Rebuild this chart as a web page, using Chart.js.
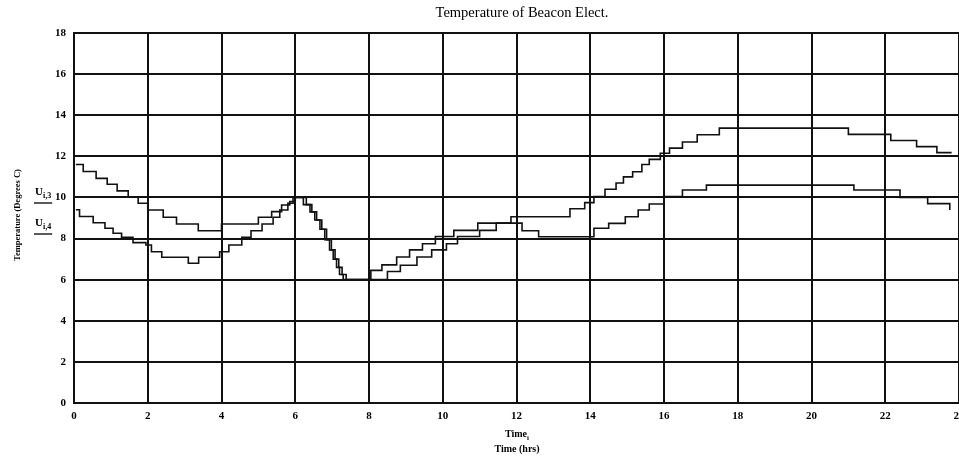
<!DOCTYPE html>
<html>
<head>
  <title>Temperature of Beacon Elect.</title>
  <style>
    body {
      margin: 0;
      padding: 0;
      background: #fff;
      overflow: hidden;
    }

    #wrap {
      width: 959px;
      height: 456px;
    }
  </style>
</head>
<body>
  <div id="wrap">
    <canvas id="grafikSuhu" width="959" height="456"></canvas>
  </div>

  <script src="https://cdn.jsdelivr.net/npm/chart.js@4.4.0/dist/chart.umd.min.js"></script>

  <script>
    // upper curve U(i,3): time where the step happens, new value
    const hours3 = [0.05, 0.25, 0.6, 0.9, 1.17, 1.47, 1.74, 2.0, 2.42, 2.78, 3.37, 4.0, 5.0, 5.36, 5.63, 5.85, 6.0,
      6.3, 6.45, 6.58, 6.72, 6.85, 6.98, 7.08, 7.18, 7.27, 7.38, 8.05, 8.35, 8.75, 9.1, 9.45, 9.8, 10.3, 10.95, 11.85,
      13.45, 13.85, 14.1, 14.4, 14.7, 14.9, 15.15, 15.4, 15.6, 15.9, 16.15, 16.5, 16.9, 17.5, 21.0, 22.15, 22.85, 23.4, 23.8];
    const temp3 = [11.6, 11.26, 10.93, 10.64, 10.32, 10.01, 9.72, 9.39, 9.04, 8.71, 8.38, 8.71, 9.04, 9.31, 9.63, 9.8, 10.0,
      9.65, 9.3, 8.9, 8.45, 7.95, 7.45, 7.0, 6.6, 6.25, 6.0, 6.45, 6.72, 7.1, 7.45, 7.75, 8.1, 8.4, 8.75, 9.06,
      9.45, 9.75, 10.04, 10.4, 10.7, 11.0, 11.25, 11.6, 11.85, 12.15, 12.4, 12.7, 13.05, 13.37, 13.07, 12.77, 12.47, 12.18, 12.18];

    // lower curve U(i,4)
    const hours4 = [0.05, 0.15, 0.52, 0.84, 1.06, 1.29, 1.6, 1.95, 2.1, 2.38, 3.1, 3.38, 3.95, 4.2, 4.55, 4.8, 5.1, 5.4, 5.58, 5.8, 5.94,
      6.22, 6.4, 6.53, 6.67, 6.8, 6.93, 7.03, 7.12, 7.2, 7.3, 8.5, 8.85, 9.3, 9.7, 10.1, 10.4, 11.0, 11.45, 12.15, 12.6,
      14.1, 14.5, 14.95, 15.3, 15.6, 16.0, 16.5, 17.15, 21.15, 22.4, 23.15, 23.75];
    const temp4 = [9.4, 9.07, 8.77, 8.5, 8.26, 8.06, 7.8, 7.69, 7.36, 7.09, 6.8, 7.09, 7.36, 7.69, 8.06, 8.38, 8.71, 9.04, 9.39, 9.72, 10.0,
      9.65, 9.3, 8.9, 8.45, 7.95, 7.45, 7.0, 6.6, 6.25, 6.0, 6.4, 6.7, 7.1, 7.45, 7.75, 8.1, 8.4, 8.75, 8.38, 8.09,
      8.5, 8.74, 9.06, 9.39, 9.68, 10.04, 10.36, 10.6, 10.36, 10.0, 9.7, 9.39];

    const xTicks = [0, 2, 4, 6, 8, 10, 12, 14, 16, 18, 20, 22, 24];
    const yTicks = [0, 2, 4, 6, 8, 10, 12, 14, 16, 18];

    const judul = 'Temperature of Beacon Elect.';
    const judulY = 'Temperature (Degrees C)';
    const judulX = 'Time (hrs)';

    const serif = '"Liberation Serif", "DejaVu Serif", serif';

    function toPoints(xs, ys) {
      return xs.map((t, i) => ({ x: t, y: ys[i] }));
    }

    // draw a name with a subscript, e.g. U with i,3
    function subText(ctx, base, sub, x, y, size, align) {
      ctx.font = 'bold ' + size + 'px ' + serif;
      const w1 = ctx.measureText(base).width;
      ctx.font = 'bold ' + Math.round(size * 0.7) + 'px ' + serif;
      const w2 = ctx.measureText(sub).width;
      let left = x;
      if (align === 'center') left = x - (w1 + w2) / 2;
      ctx.textAlign = 'left';
      ctx.textBaseline = 'alphabetic';
      ctx.font = 'bold ' + size + 'px ' + serif;
      ctx.fillText(base, left, y);
      ctx.font = 'bold ' + Math.round(size * 0.7) + 'px ' + serif;
      ctx.fillText(sub, left + w1, y + size * 0.3);
      return left + w1 + w2;
    }

    const teksPlugin = {
      id: 'teks',
      afterDraw(chart) {
        const ctx = chart.ctx;
        ctx.save();
        ctx.fillStyle = '#000';

        // title
        ctx.font = '14.5px ' + serif;
        ctx.textAlign = 'center';
        ctx.textBaseline = 'middle';
        ctx.fillText(judul, 522, 13);

        // y title, rotated
        ctx.save();
        ctx.translate(18, 215);
        ctx.rotate(-Math.PI / 2);
        ctx.font = 'bold 8.5px ' + serif;
        ctx.textAlign = 'center';
        ctx.textBaseline = 'middle';
        ctx.fillText(judulY, 0, 0);
        ctx.restore();

        // series names beside the axis
        ctx.strokeStyle = '#000';
        ctx.lineWidth = 1.3;
        let end = subText(ctx, 'U', 'i,3', 35, 195, 11, 'left');
        ctx.beginPath();
        ctx.moveTo(34, 203);
        ctx.lineTo(end + 1, 203);
        ctx.stroke();
        end = subText(ctx, 'U', 'i,4', 35, 226, 11, 'left');
        ctx.beginPath();
        ctx.moveTo(34, 234);
        ctx.lineTo(end + 1, 234);
        ctx.stroke();

        // x titles
        subText(ctx, 'Time', 'i', 517, 437, 10, 'center');
        ctx.font = 'bold 10px ' + serif;
        ctx.textAlign = 'center';
        ctx.textBaseline = 'alphabetic';
        ctx.fillText(judulX, 517, 452);

        ctx.restore();
      }
    };

    const ctx = document.getElementById('grafikSuhu').getContext('2d');

    const chart = new Chart(ctx, {
      type: 'line',
      data: {
        datasets: [{
          label: 'U(i,3)',
          data: toPoints(hours3, temp3),
          stepped: 'before',
          borderColor: '#111',
          borderWidth: 1.6,
          pointRadius: 0,
          fill: false
        }, {
          label: 'U(i,4)',
          data: toPoints(hours4, temp4),
          stepped: 'before',
          borderColor: '#111',
          borderWidth: 1.6,
          pointRadius: 0,
          fill: false
        }]
      },
      options: {
        responsive: false,
        animation: false,
        layout: {
          padding: { top: 33, left: 0, right: 0, bottom: 0 }
        },
        plugins: {
          legend: { display: false },
          tooltip: { enabled: false },
          title: { display: false }
        },
        scales: {
          x: {
            type: 'linear',
            min: 0,
            max: 24,
            afterBuildTicks: (scale) => {
              scale.ticks = xTicks.map(v => ({ value: v }));
            },
            afterFit: (scale) => {
              scale.height = 53;
              scale.paddingLeft = 0;
              scale.paddingRight = 0;
            },
            ticks: {
              color: '#000',
              padding: 7,
              maxRotation: 0,
              font: { family: serif, size: 11, weight: 'bold' }
            },
            grid: {
              color: '#111',
              lineWidth: 2,
              drawTicks: false
            },
            border: { color: '#111', width: 2 }
          },
          y: {
            min: 0,
            max: 18,
            afterBuildTicks: (scale) => {
              scale.ticks = yTicks.map(v => ({ value: v }));
            },
            afterFit: (scale) => {
              scale.width = 74;
            },
            ticks: {
              color: '#000',
              padding: 8,
              font: { family: serif, size: 11, weight: 'bold' }
            },
            grid: {
              color: '#111',
              lineWidth: 2,
              drawTicks: false
            },
            border: { color: '#111', width: 2 }
          }
        }
      },
      plugins: [teksPlugin]
    });
  </script>
</body>
</html>
